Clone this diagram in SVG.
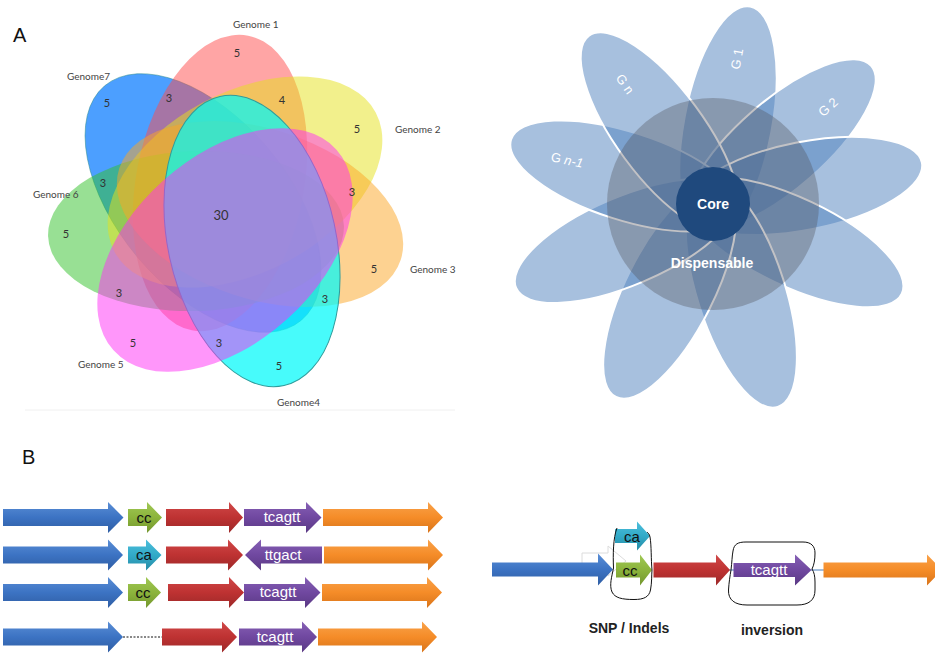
<svg xmlns="http://www.w3.org/2000/svg" width="935" height="654" viewBox="0 0 935 654">
<defs>
<style>
.vl{font-family:Lato,"Liberation Sans",sans-serif;font-size:10px;fill:#444}
.vn{font-family:Lato,"Liberation Sans",sans-serif;font-size:11px;fill:#333;text-anchor:middle}
.pl{font-family:"Liberation Sans",sans-serif;font-size:13px;fill:#fff;text-anchor:middle}
.fc{font-family:"Liberation Sans",sans-serif;font-size:14px;font-weight:bold;fill:#fff;text-anchor:middle}
.al{font-family:"Liberation Sans",sans-serif;font-size:15px;text-anchor:middle}
.bl{font-family:"Liberation Sans",sans-serif;font-size:14px;font-weight:bold;fill:#222;text-anchor:middle}
.big{font-family:"Liberation Sans",sans-serif;font-size:20px;fill:#111}
.petal{fill:#4f81bd;fill-opacity:.5;stroke:#fff;stroke-width:2}
.loop{fill:none;stroke:#111;stroke-width:1}
</style>
<linearGradient id="gB" x1="0" y1="0" x2="0" y2="1"><stop offset="0" stop-color="#5a8ed6"/><stop offset=".5" stop-color="#3c73c3"/><stop offset="1" stop-color="#2f5da3"/></linearGradient>
<linearGradient id="gR" x1="0" y1="0" x2="0" y2="1"><stop offset="0" stop-color="#d04848"/><stop offset=".5" stop-color="#be3232"/><stop offset="1" stop-color="#9c2828"/></linearGradient>
<linearGradient id="gG" x1="0" y1="0" x2="0" y2="1"><stop offset="0" stop-color="#a0c855"/><stop offset=".5" stop-color="#8cb43c"/><stop offset="1" stop-color="#73962e"/></linearGradient>
<linearGradient id="gC" x1="0" y1="0" x2="0" y2="1"><stop offset="0" stop-color="#4dbfdc"/><stop offset=".5" stop-color="#32aac8"/><stop offset="1" stop-color="#278ca6"/></linearGradient>
<linearGradient id="gP" x1="0" y1="0" x2="0" y2="1"><stop offset="0" stop-color="#8660b5"/><stop offset=".5" stop-color="#7048a0"/><stop offset="1" stop-color="#5a3984"/></linearGradient>
<linearGradient id="gO" x1="0" y1="0" x2="0" y2="1"><stop offset="0" stop-color="#f9a24a"/><stop offset=".5" stop-color="#f58c28"/><stop offset="1" stop-color="#d8741a"/></linearGradient>
</defs>
<rect width="935" height="654" fill="#fff"/>

<!-- Panel A: Venn -->
<text class="big" x="13" y="42">A</text>
<line x1="25" y1="410" x2="455" y2="410" stroke="#f0f0f0" stroke-width="1"/>
<g id="venn">
<g id="genome7"><ellipse cx="203" cy="203" rx="153" ry="85" transform="rotate(50 203 203)" fill="#0a7cff" fill-opacity=".73" stroke="#2a8c8c" stroke-opacity=".6" stroke-width=".8"/></g>
<g id="genome1"><ellipse cx="220" cy="183" rx="150" ry="84" transform="rotate(-79.2 220 183)" fill="#ff4b4b" fill-opacity=".5"/></g>
<g id="genome6"><ellipse cx="196" cy="231" rx="148" ry="80" transform="rotate(-2 196 231)" fill="#31c129" fill-opacity=".5"/></g>
<g id="genome2"><ellipse cx="245" cy="182" rx="148" ry="90" transform="rotate(-28 245 182)" fill="#e5e119" fill-opacity=".5"/></g>
<g id="genome3"><ellipse cx="260" cy="214" rx="148" ry="85" transform="rotate(18 260 214)" fill="#fba523" fill-opacity=".5"/></g>
<g id="genome4"><ellipse cx="252" cy="241" rx="148" ry="84" transform="rotate(77.5 252 241)" fill="#00fafa" fill-opacity=".72" stroke="#2f9c9c" stroke-width="1"/></g>
<g id="genome5"><ellipse cx="225" cy="250" rx="150" ry="93" transform="rotate(-42 225 250)" fill="#ff2df5" fill-opacity=".5"/></g>
</g>
<g id="venn-labels">
<text class="vl" x="233" y="28">Genome 1</text>
<text class="vl" x="67" y="79.5">Genome7</text>
<text class="vl" x="395" y="133">Genome 2</text>
<text class="vl" x="33" y="198">Genome 6</text>
<text class="vl" x="410" y="273">Genome 3</text>
<text class="vl" x="78" y="368">Genome 5</text>
<text class="vl" x="277" y="405.5">Genome4</text>
<text class="vn" x="237" y="57">5</text>
<text class="vn" x="107" y="107">5</text>
<text class="vn" x="169" y="102">3</text>
<text class="vn" x="282" y="104">4</text>
<text class="vn" x="357" y="133">5</text>
<text class="vn" x="103" y="187">3</text>
<text class="vn" x="66" y="238">5</text>
<text class="vn" x="221" y="219.5" style="font-size:13px">30</text>
<text class="vn" x="352" y="195.5">3</text>
<text class="vn" x="374" y="273">5</text>
<text class="vn" x="119" y="297">3</text>
<text class="vn" x="325" y="303">3</text>
<text class="vn" x="133" y="346.5">5</text>
<text class="vn" x="219" y="347">3</text>
<text class="vn" x="279" y="369.5">5</text>
</g>

<!-- Flower -->
<g id="flower">
<g id="petals">
<ellipse class="petal" cx="728" cy="124.4" rx="120" ry="44" transform="rotate(-79.3 728 124.4)"/>
<ellipse class="petal" cx="780.8" cy="144.8" rx="120" ry="44" transform="rotate(-41.1 780.8 144.8)"/>
<ellipse class="petal" cx="804.2" cy="185.9" rx="120" ry="44" transform="rotate(-11.2 804.2 185.9)"/>
<ellipse class="petal" cx="793.4" cy="242.2" rx="120" ry="44" transform="rotate(25.4 793.4 242.2)"/>
<ellipse class="petal" cx="741.3" cy="292.6" rx="120" ry="44" transform="rotate(72.3 741.3 292.6)"/>
<ellipse class="petal" cx="669.9" cy="289.8" rx="120" ry="44" transform="rotate(116.7 669.9 289.8)"/>
<ellipse class="petal" cx="626.5" cy="240.9" rx="120" ry="44" transform="rotate(156.9 626.5 240.9)"/>
<ellipse class="petal" cx="625.4" cy="176" rx="120" ry="44" transform="rotate(197.7 625.4 176)"/>
<ellipse class="petal" cx="660.2" cy="132.4" rx="120" ry="44" transform="rotate(233.6 660.2 132.4)"/>
</g>
<g id="dispensable"><circle cx="713" cy="204" r="106" fill="#50505a" fill-opacity=".35"/>
<text class="fc" x="712" y="268">Dispensable</text></g>
<g id="core"><circle cx="713" cy="204" r="37" fill="#1f497d"/>
<text class="fc" x="713" y="209">Core</text></g>
<g id="petal-labels">
<text class="pl" transform="translate(737 59) rotate(-80)" dy="4.5">G 1</text>
<text class="pl" transform="translate(828 107) rotate(-42)" dy="4.5">G 2</text>
<text class="pl" transform="translate(625 84) rotate(55)" dy="4.5">G n</text>
<text class="pl" transform="translate(567 160) rotate(12)" dy="4.5">G <tspan font-style="italic">n-1</tspan></text>
</g>
</g>

<!-- Panel B -->
<text class="big" x="22" y="464">B</text>
<g id="rows">
<g id="row1">
<path d="M3,509 H108 V502 L123.5,517.5 L108,533 V526 H3 Z" fill="url(#gB)"/>
<path d="M128,509 H147 V502 L162,517.5 L147,533 V526 H128 Z" fill="url(#gG)"/>
<path d="M166,509 H229 V502 L243,517.5 L229,533 V526 H166 Z" fill="url(#gR)"/>
<path d="M244,509 H306 V502 L321.5,517.5 L306,533 V526 H244 Z" fill="url(#gP)"/>
<path d="M323,509 H428 V502 L443,517.5 L428,533 V526 H323 Z" fill="url(#gO)"/>
<text class="al" x="144" y="522.5" fill="#111">cc</text>
<text class="al" x="282" y="522" fill="#fff">tcagtt</text>
</g>
<g id="row2">
<path d="M3,546.5 H108 V539.5 L123,555 L108,570.5 V563.5 H3 Z" fill="url(#gB)"/>
<path d="M128,546.5 H146 V539.5 L161.5,555 L146,570.5 V563.5 H128 Z" fill="url(#gC)"/>
<path d="M166,546.5 H228 V539.5 L243,555 L228,570.5 V563.5 H166 Z" fill="url(#gR)"/>
<path d="M322,546.5 H261 V539.5 L245,555 L261,570.5 V563.5 H322 Z" fill="url(#gP)"/>
<path d="M324,546.5 H428 V539.5 L443,555 L428,570.5 V563.5 H324 Z" fill="url(#gO)"/>
<text class="al" x="144" y="559.5" fill="#111">ca</text>
<text class="al" x="283" y="559.5" fill="#fff">ttgact</text>
</g>
<g id="row3">
<path d="M3,584 H108 V577 L123,592.5 L108,608 V601 H3 Z" fill="url(#gB)"/>
<path d="M128,584 H146 V577 L161,592.5 L146,608 V601 H128 Z" fill="url(#gG)"/>
<path d="M168,584 H229 V577 L244,592.5 L229,608 V601 H168 Z" fill="url(#gR)"/>
<path d="M244,584 H305 V577 L320.5,592.5 L305,608 V601 H244 Z" fill="url(#gP)"/>
<path d="M322,584 H427 V577 L442,592.5 L427,608 V601 H322 Z" fill="url(#gO)"/>
<text class="al" x="143" y="597.5" fill="#111">cc</text>
<text class="al" x="278" y="597" fill="#fff">tcagtt</text>
</g>
<g id="row4">
<path d="M3,628.5 H108 V621.5 L123,637 L108,652.5 V645.5 H3 Z" fill="url(#gB)"/>
<path d="M162,628.5 H222 V621.5 L237,637 L222,652.5 V645.5 H162 Z" fill="url(#gR)"/>
<path d="M239,628.5 H302 V621.5 L317,637 L302,652.5 V645.5 H239 Z" fill="url(#gP)"/>
<path d="M318,628.5 H422 V621.5 L437,637 L422,652.5 V645.5 H318 Z" fill="url(#gO)"/>
<text class="al" x="275" y="641.5" fill="#fff">tcagtt</text>
</g>
</g>
<g id="connectors">
<line x1="123" y1="637" x2="162" y2="637" stroke="#111" stroke-width="1" stroke-dasharray="2 1.5"/>
<line x1="729" y1="570" x2="734" y2="570" stroke="#4a7ebb" stroke-width="1"/>
<line x1="811" y1="570" x2="824" y2="570" stroke="#4a7ebb" stroke-width="1"/>
</g>

<g id="variants">
<path d="M582,553 H608 V546 L626,561 L608,576 V569 H582 Z" fill="#fff" stroke="#dcdcdc" stroke-width="1"/>
<path d="M492,562.5 H598 V553.5 L613,569.5 L598,585.5 V576.5 H492 Z" fill="url(#gB)"/>
<path d="M615,529 H637 V521.5 L650,536 L637,550.5 V543 H615 Z" fill="url(#gC)"/>
<path d="M616,562.5 H640 V554.5 L652,570 L640,585.5 V577.5 H616 Z" fill="url(#gG)"/>
<path d="M653.5,562.5 H716 V554.5 L730,570 L716,585.5 V577.5 H653.5 Z" fill="url(#gR)"/>
<path d="M733.5,563 H795 V554.5 L811.5,570 L795,585.5 V577 H733.5 Z" fill="url(#gP)"/>
<path d="M823.5,562.5 H927 V554.5 L942,570 L927,585.5 V577.5 H823.5 Z" fill="url(#gO)"/>
<text class="al" x="632" y="541.5" fill="#111">ca</text>
<text class="al" x="630" y="575.5" fill="#111">cc</text>
<text class="al" x="769" y="575" fill="#fff">tcagtt</text>
<path class="loop" d="M617,528 C613,538 613,555 613.5,568 C612,576 609,585 612,592 C615,598 622,599.5 634,599.5 C644,599.5 649,597 650.5,590 C652,582 651.5,575 652,570 C651,560 651.5,545 650,537 C649.5,534 648,533 647,532"/>
<path class="loop" d="M733,551 C734,544 738,542 746,542 L803,542 C811,542 815,546 815,553 C815,560 814,565 812,569 C814,572 815,576 815,582 L815,590 C815,600 809,605 797,605 L747,605 C735,605 728,600 728.5,590 C729,582 730,576 731,570 C732,562 732,556 733,551 Z"/>
<text class="bl" x="629" y="633">SNP / Indels</text>
<text class="bl" x="772" y="635">inversion</text>
</g>
</svg>
